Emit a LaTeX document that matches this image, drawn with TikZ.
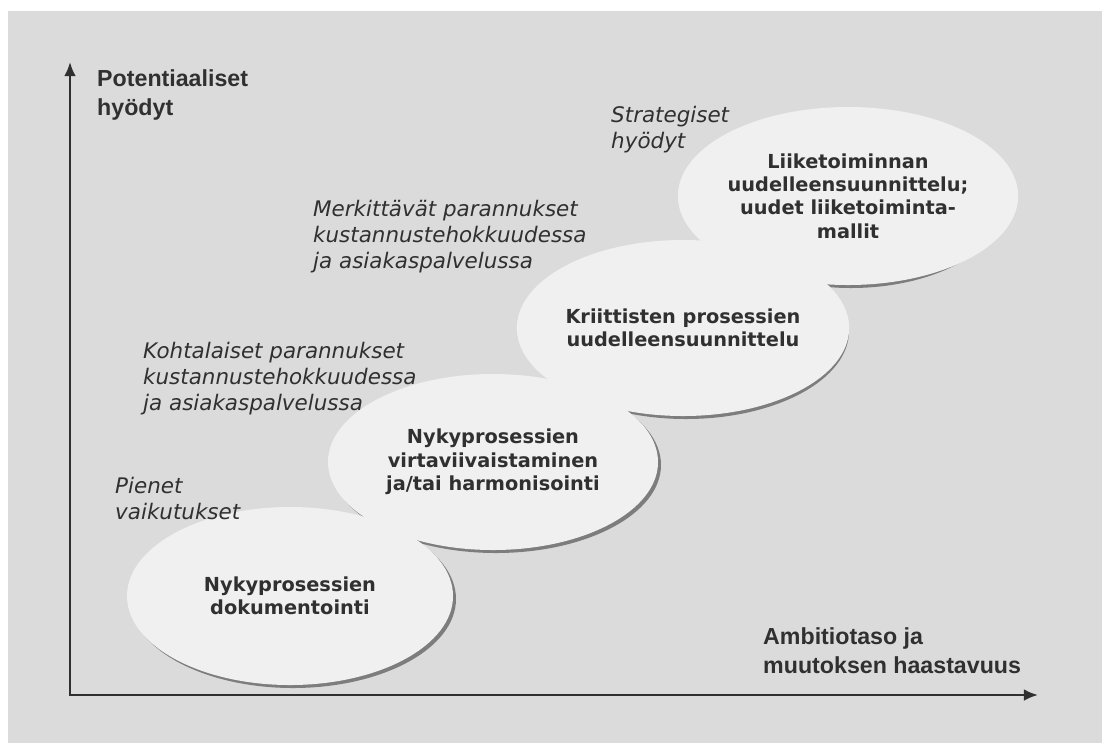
\documentclass[tikz,border=0pt]{standalone}
\usepackage{fontspec}
\usepackage{tikz}
\usetikzlibrary{shapes.geometric, arrows.meta}
\newfontfamily\verdana{DejaVu Sans}
\newfontfamily\arial{Liberation Sans}
\definecolor{paper}{RGB}{219,219,219}
\definecolor{bubble}{RGB}{240,240,240}
\definecolor{shadowgray}{RGB}{125,125,125}
\definecolor{ink}{RGB}{48,48,48}

\begin{document}
\begin{tikzpicture}[
    x=0.03cm, y=-0.03cm,
    levelbox/.style={ellipse, fill=bubble, inner sep=0pt, align=center, text=ink,
        font=\verdana\bfseries\fontsize{16.5}{20}\selectfont},
    benefit/.style={anchor=base west, align=left, inner sep=0pt, text=ink,
        font=\verdana\itshape\fontsize{18.3}{22}\selectfont},
    axislabel/.style={anchor=base west, align=left, inner sep=0pt, text=ink,
        font=\arial\bfseries\fontsize{19.8}{24}\selectfont},
    axis/.style={line width=2pt, draw=ink, {Latex[length=12pt,width=10pt]}-{Latex[length=12pt,width=10pt]}}
]

\useasboundingbox (0,0) rectangle (1102,743);
\fill[white] (0,0) rectangle (1102,743);
\fill[paper] (8,11) rectangle (1102,743);

% shadows first, so the bubbles merge where they overlap
\foreach \cx/\cy/\rx/\ry in {290/596/163/89, 493/462/165/88, 683/328/163/88, 848/196/156/89}
    \fill[shadowgray] (\cx+3,\cy+3) ellipse [x radius=\rx, y radius=\ry];

\node[levelbox, minimum width=9.78cm, minimum height=5.34cm] (docu) at (290,596)
    {Nykyprosessien\\dokumentointi};
\node[levelbox, minimum width=9.90cm, minimum height=5.28cm] (stream) at (493,462)
    {Nykyprosessien\\virtaviivaistaminen\\ja/tai harmonisointi};
\node[levelbox, minimum width=9.78cm, minimum height=5.28cm] (critical) at (683,328)
    {Kriittisten prosessien\\uudelleensuunnittelu};
\node[levelbox, minimum width=9.36cm, minimum height=5.34cm] (business) at (848,196)
    {Liiketoiminnan\\uudelleensuunnittelu;\\uudet liiketoiminta-\\mallit};

% labels sit on the baseline of their last line
\node[benefit] (small) at (115,519) {Pienet\\vaikutukset};
\node[benefit] (moderate) at (143,410) {Kohtalaiset parannukset\\kustannustehokkuudessa\\ja asiakaspalvelussa};
\node[benefit] (major) at (313,268) {Merkittävät parannukset\\kustannustehokkuudessa\\ja asiakaspalvelussa};
\node[benefit] (strategic) at (611,148) {Strategiset\\hyödyt};

\node[axislabel] (ylabel) at (97,115) {Potentiaaliset\\hyödyt};
\node[axislabel] (xlabel) at (763,673) {Ambitiotaso ja\\muutoksen haastavuus};

\coordinate (origin) at (70,695);
\coordinate (ytip) at (70,62);
\coordinate (xtip) at (1038,695);
\draw[axis] (ytip) -- (origin) -- (xtip);

\end{tikzpicture}
\end{document}
